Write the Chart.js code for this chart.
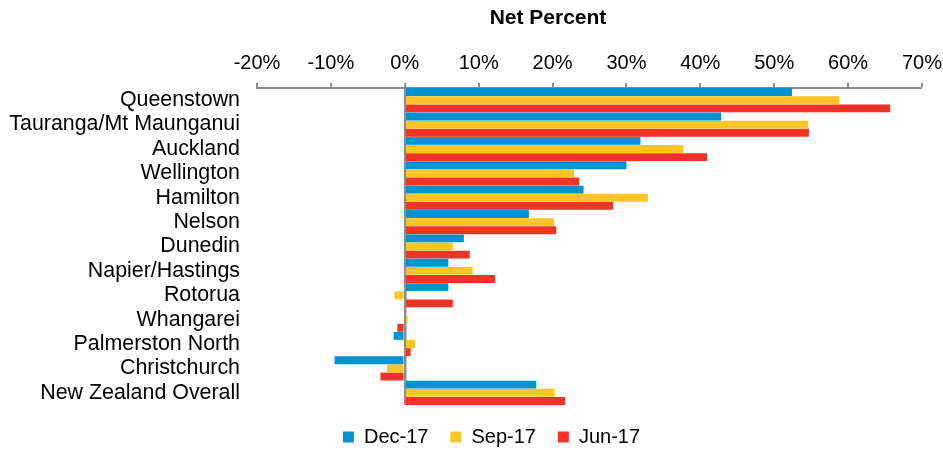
<!DOCTYPE html>
<html>
<head>
<meta charset="utf-8">
<title>Net Percent</title>
<script src="https://cdn.jsdelivr.net/npm/chart.js@4/dist/chart.umd.min.js"></script>
<style>
  html, body { margin: 0; padding: 0; background: #fff; }
  #wrap { width: 943px; height: 451px; position: relative; }
</style>
</head>
<body>
<div id="wrap"><canvas id="netChart"></canvas></div>
<script>
// Regions, top to bottom
const regions = [
  "Queenstown",
  "Tauranga/Mt Maunganui",
  "Auckland",
  "Wellington",
  "Hamilton",
  "Nelson",
  "Dunedin",
  "Napier/Hastings",
  "Rotorua",
  "Whangarei",
  "Palmerston North",
  "Christchurch",
  "New Zealand Overall",
];

// Net percent per quarter
const dec17 = [52.4, 42.8, 31.9, 30.0, 24.2, 16.8, 8.0, 5.9, 5.9, 0, -1.5, -9.5, 17.8];
const sep17 = [58.8, 54.6, 37.7, 22.9, 32.9, 20.2, 6.5, 9.2, -1.4, 0.4, 1.4, -2.4, 20.3];
const jun17 = [65.7, 54.7, 40.9, 23.6, 28.2, 20.5, 8.8, 12.2, 6.5, -1.0, 0.8, -3.3, 21.7];

const seriesNames = ["Dec-17", "Sep-17", "Jun-17"];
const seriesColors = ["#0093d0", "#ffc425", "#ef3327"];

// x axis ticks: -20% .. 70%
const xMin = -20;
const xMax = 70;
const xStep = 10;

const FONT = "'Liberation Sans', Arial, Helvetica, sans-serif";
Chart.defaults.font.family = FONT;
Chart.defaults.color = "#000";

// chart title sits above the tick labels, a bit left of the plot centre
const titlePlugin = {
  id: "netTitle",
  beforeDraw(chart) {
    // nudge the legend right, it is centred a little off the canvas middle
    if (chart.legend) {
      chart.legend.left += 16;
      chart.legend.right += 16;
    }
  },
  afterDraw(chart) {
    const ctx = chart.ctx;
    ctx.save();
    ctx.font = "bold 21px " + FONT;
    ctx.fillStyle = "#000";
    ctx.textAlign = "center";
    ctx.textBaseline = "middle";
    ctx.fillText("Net Percent", 548, 18);
    ctx.restore();
  },
};

const datasets = [dec17, sep17, jun17].map((values, i) => ({
  label: seriesNames[i],
  data: values,
  backgroundColor: seriesColors[i],
  borderWidth: 0,
  categoryPercentage: 1.0,
  barPercentage: 0.97,
}));

new Chart(document.getElementById("netChart"), {
  type: "bar",
  data: { labels: regions, datasets },
  plugins: [titlePlugin],
  options: {
    indexAxis: "y",
    responsive: true,
    maintainAspectRatio: false,
    animation: false,
    layout: { padding: { top: 43, left: 8, right: 0, bottom: -6 } },
    plugins: {
      title: { display: false },
      tooltip: { enabled: false },
      legend: {
        position: "bottom",
        labels: {
          boxWidth: 11,
          boxHeight: 11,
          padding: 22,
          font: { size: 20 },
          color: "#000",
        },
      },
    },
    scales: {
      x: {
        position: "top",
        min: xMin,
        max: xMax,
        z: 1,
        afterFit(scale) {
          // the 70% label may run to the canvas edge
          scale.paddingLeft = 0;
          scale.paddingRight = 21;
        },
        border: { display: true, color: "#8c8c8c", width: 2 },
        grid: {
          drawOnChartArea: true,
          color: (c) => (c.tick && c.tick.value === 0 ? "#8c8c8c" : "rgba(0,0,0,0)"),
          lineWidth: (c) => (c.tick && c.tick.value === 0 ? 2.5 : 0),
          tickColor: "#8c8c8c",
          tickLength: 5,
          tickWidth: 2,
        },
        ticks: {
          stepSize: xStep,
          padding: 8,
          font: { size: 20 },
          color: "#000",
          callback: (v) => v + "%",
        },
      },
      y: {
        afterFit(scale) { scale.width = 249; },
        border: { display: false },
        grid: { display: false, drawTicks: false },
        ticks: {
          padding: 17,
          font: { size: 21.4 },
          color: "#000",
          autoSkip: false,
        },
      },
    },
  },
});
</script>
</body>
</html>
